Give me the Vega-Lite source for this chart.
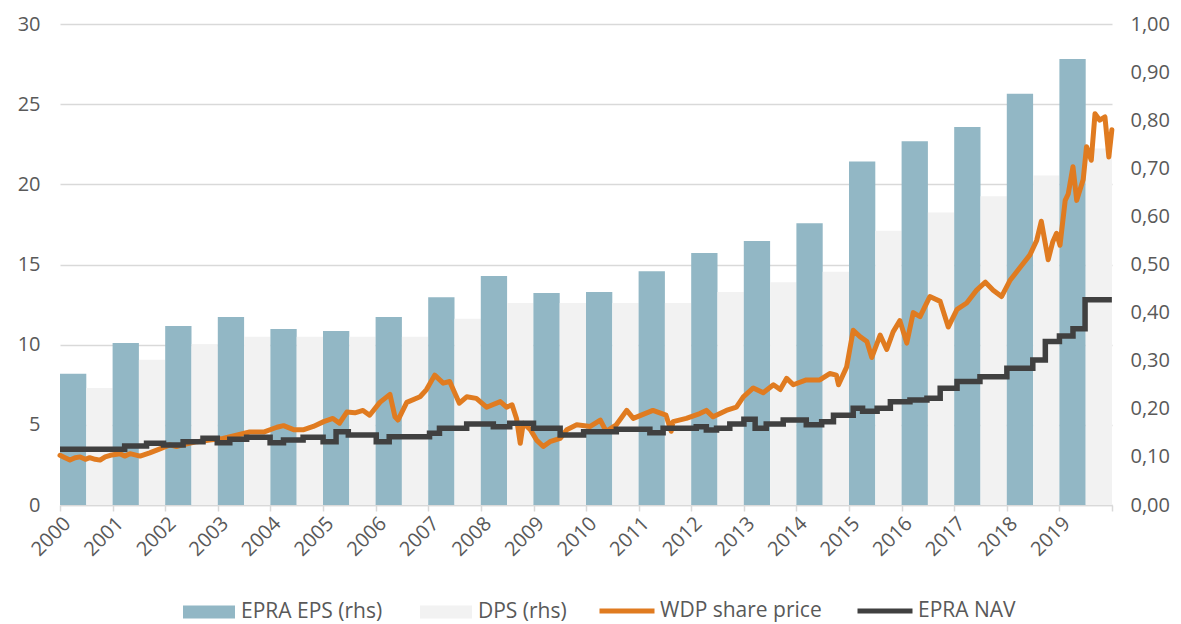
{
  "$schema": "https://vega.github.io/schema/vega-lite/v6.json",
  "width": 1052,
  "height": 481,
  "autosize": {"type": "none"},
  "padding": {"left": 60, "top": 24, "right": 69, "bottom": 119},
  "background": "white",
  "config": {
    "locale": {"number": {"decimal": ",", "thousands": ".", "grouping": [3], "currency": ["", " €"]}},
    "font": "Open Sans",
    "view": {"stroke": null},
    "axis": {"labelFont": "Open Sans", "labelFontSize": 20, "labelColor": "#595959", "title": null, "domain": false, "ticks": false}
  },
  "layer": [
    {
      "data": {"values": [
        {"year": 2000, "series": "EPRA EPS (rhs)", "value": 0.273}, {"year": 2000, "series": "DPS (rhs)", "value": 0.243},
        {"year": 2001, "series": "EPRA EPS (rhs)", "value": 0.337}, {"year": 2001, "series": "DPS (rhs)", "value": 0.302},
        {"year": 2002, "series": "EPRA EPS (rhs)", "value": 0.372}, {"year": 2002, "series": "DPS (rhs)", "value": 0.334},
        {"year": 2003, "series": "EPRA EPS (rhs)", "value": 0.391}, {"year": 2003, "series": "DPS (rhs)", "value": 0.35},
        {"year": 2004, "series": "EPRA EPS (rhs)", "value": 0.366}, {"year": 2004, "series": "DPS (rhs)", "value": 0.35},
        {"year": 2005, "series": "EPRA EPS (rhs)", "value": 0.362}, {"year": 2005, "series": "DPS (rhs)", "value": 0.35},
        {"year": 2006, "series": "EPRA EPS (rhs)", "value": 0.391}, {"year": 2006, "series": "DPS (rhs)", "value": 0.35},
        {"year": 2007, "series": "EPRA EPS (rhs)", "value": 0.432}, {"year": 2007, "series": "DPS (rhs)", "value": 0.387},
        {"year": 2008, "series": "EPRA EPS (rhs)", "value": 0.476}, {"year": 2008, "series": "DPS (rhs)", "value": 0.42},
        {"year": 2009, "series": "EPRA EPS (rhs)", "value": 0.441}, {"year": 2009, "series": "DPS (rhs)", "value": 0.42},
        {"year": 2010, "series": "EPRA EPS (rhs)", "value": 0.443}, {"year": 2010, "series": "DPS (rhs)", "value": 0.42},
        {"year": 2011, "series": "EPRA EPS (rhs)", "value": 0.486}, {"year": 2011, "series": "DPS (rhs)", "value": 0.42},
        {"year": 2012, "series": "EPRA EPS (rhs)", "value": 0.524}, {"year": 2012, "series": "DPS (rhs)", "value": 0.443},
        {"year": 2013, "series": "EPRA EPS (rhs)", "value": 0.549}, {"year": 2013, "series": "DPS (rhs)", "value": 0.463},
        {"year": 2014, "series": "EPRA EPS (rhs)", "value": 0.586}, {"year": 2014, "series": "DPS (rhs)", "value": 0.485},
        {"year": 2015, "series": "EPRA EPS (rhs)", "value": 0.714}, {"year": 2015, "series": "DPS (rhs)", "value": 0.57},
        {"year": 2016, "series": "EPRA EPS (rhs)", "value": 0.756}, {"year": 2016, "series": "DPS (rhs)", "value": 0.608},
        {"year": 2017, "series": "EPRA EPS (rhs)", "value": 0.786}, {"year": 2017, "series": "DPS (rhs)", "value": 0.642},
        {"year": 2018, "series": "EPRA EPS (rhs)", "value": 0.855}, {"year": 2018, "series": "DPS (rhs)", "value": 0.685},
        {"year": 2019, "series": "EPRA EPS (rhs)", "value": 0.927}, {"year": 2019, "series": "DPS (rhs)", "value": 0.741}
      ]},
      "mark": {"type": "bar"},
      "encoding": {
        "x": {"field": "year", "type": "ordinal", "scale": {"paddingInner": 0, "paddingOuter": 0}, "axis": null},
        "xOffset": {"field": "series", "type": "nominal", "sort": ["EPRA EPS (rhs)", "DPS (rhs)"], "scale": {"paddingInner": 0, "paddingOuter": 0}},
        "y": {"field": "value", "type": "quantitative", "scale": {"domain": [0, 1], "nice": false},
              "axis": {"orient": "right", "format": ".2f", "values": [0, 0.1, 0.2, 0.3, 0.4, 0.5, 0.6, 0.7, 0.8, 0.9, 1], "grid": false, "labelPadding": 18, "title": null}},
        "color": {"field": "series", "type": "nominal",
                  "scale": {"domain": ["EPRA EPS (rhs)", "DPS (rhs)"], "range": ["#92B7C5", "#F2F2F2"]},
                  "legend": {"orient": "none", "legendX": 123, "legendY": 562, "direction": "horizontal", "title": null,
                             "symbolType": "M-1,-0.25H1V0.25H-1Z", "symbolSize": 2704, "symbolStrokeWidth": 0, "symbolOpacity": 1,
                             "labelFont": "Open Sans", "labelFontSize": 21, "labelColor": "#595959", "labelOffset": 6,
                             "columnPadding": 37, "labelLimit": 400}}
      }
    },
    {
      "layer": [
        {
          "data": {"values": [
            {"date": "2000-01-01", "series": "WDP share price", "value": 3.1},
            {"date": "2000-02-05", "series": "WDP share price", "value": 2.95},
            {"date": "2000-03-10", "series": "WDP share price", "value": 2.8},
            {"date": "2000-04-15", "series": "WDP share price", "value": 2.95},
            {"date": "2000-05-20", "series": "WDP share price", "value": 3.0},
            {"date": "2000-06-25", "series": "WDP share price", "value": 2.85},
            {"date": "2000-07-25", "series": "WDP share price", "value": 2.95},
            {"date": "2000-09-01", "series": "WDP share price", "value": 2.85},
            {"date": "2000-10-05", "series": "WDP share price", "value": 2.8},
            {"date": "2000-11-10", "series": "WDP share price", "value": 3.0},
            {"date": "2000-12-15", "series": "WDP share price", "value": 3.1},
            {"date": "2001-02-20", "series": "WDP share price", "value": 3.2},
            {"date": "2001-03-25", "series": "WDP share price", "value": 3.05},
            {"date": "2001-05-01", "series": "WDP share price", "value": 3.2},
            {"date": "2001-07-10", "series": "WDP share price", "value": 3.05},
            {"date": "2001-09-15", "series": "WDP share price", "value": 3.25},
            {"date": "2001-11-25", "series": "WDP share price", "value": 3.5},
            {"date": "2002-02-01", "series": "WDP share price", "value": 3.75},
            {"date": "2002-03-20", "series": "WDP share price", "value": 3.65},
            {"date": "2002-05-01", "series": "WDP share price", "value": 3.75},
            {"date": "2002-08-10", "series": "WDP share price", "value": 3.95},
            {"date": "2002-11-05", "series": "WDP share price", "value": 4.05},
            {"date": "2003-02-05", "series": "WDP share price", "value": 4.15},
            {"date": "2003-05-10", "series": "WDP share price", "value": 4.35},
            {"date": "2003-08-10", "series": "WDP share price", "value": 4.55},
            {"date": "2003-11-15", "series": "WDP share price", "value": 4.55},
            {"date": "2004-02-15", "series": "WDP share price", "value": 4.85},
            {"date": "2004-04-01", "series": "WDP share price", "value": 4.95},
            {"date": "2004-06-10", "series": "WDP share price", "value": 4.7},
            {"date": "2004-08-20", "series": "WDP share price", "value": 4.7},
            {"date": "2004-10-25", "series": "WDP share price", "value": 4.9},
            {"date": "2005-01-05", "series": "WDP share price", "value": 5.2},
            {"date": "2005-03-10", "series": "WDP share price", "value": 5.4},
            {"date": "2005-04-25", "series": "WDP share price", "value": 5.1},
            {"date": "2005-06-15", "series": "WDP share price", "value": 5.8},
            {"date": "2005-08-10", "series": "WDP share price", "value": 5.75},
            {"date": "2005-10-05", "series": "WDP share price", "value": 5.9},
            {"date": "2005-11-20", "series": "WDP share price", "value": 5.6},
            {"date": "2006-01-30", "series": "WDP share price", "value": 6.4},
            {"date": "2006-04-10", "series": "WDP share price", "value": 6.9},
            {"date": "2006-05-15", "series": "WDP share price", "value": 5.5},
            {"date": "2006-06-05", "series": "WDP share price", "value": 5.3},
            {"date": "2006-08-05", "series": "WDP share price", "value": 6.4},
            {"date": "2006-11-05", "series": "WDP share price", "value": 6.75},
            {"date": "2006-12-20", "series": "WDP share price", "value": 7.2},
            {"date": "2007-02-15", "series": "WDP share price", "value": 8.1},
            {"date": "2007-04-15", "series": "WDP share price", "value": 7.6},
            {"date": "2007-05-30", "series": "WDP share price", "value": 7.7},
            {"date": "2007-08-05", "series": "WDP share price", "value": 6.35},
            {"date": "2007-09-25", "series": "WDP share price", "value": 6.75},
            {"date": "2007-12-01", "series": "WDP share price", "value": 6.65},
            {"date": "2008-02-10", "series": "WDP share price", "value": 6.1},
            {"date": "2008-05-15", "series": "WDP share price", "value": 6.45},
            {"date": "2008-06-28", "series": "WDP share price", "value": 6.1},
            {"date": "2008-08-05", "series": "WDP share price", "value": 6.25},
            {"date": "2008-09-05", "series": "WDP share price", "value": 5.4},
            {"date": "2008-10-01", "series": "WDP share price", "value": 3.85},
            {"date": "2008-10-22", "series": "WDP share price", "value": 5.1},
            {"date": "2008-12-10", "series": "WDP share price", "value": 4.7},
            {"date": "2009-01-22", "series": "WDP share price", "value": 4.05},
            {"date": "2009-03-10", "series": "WDP share price", "value": 3.65},
            {"date": "2009-04-25", "series": "WDP share price", "value": 3.95},
            {"date": "2009-07-05", "series": "WDP share price", "value": 4.15},
            {"date": "2009-08-20", "series": "WDP share price", "value": 4.7},
            {"date": "2009-10-28", "series": "WDP share price", "value": 5.0},
            {"date": "2010-01-30", "series": "WDP share price", "value": 4.9},
            {"date": "2010-04-10", "series": "WDP share price", "value": 5.3},
            {"date": "2010-05-20", "series": "WDP share price", "value": 4.6},
            {"date": "2010-07-30", "series": "WDP share price", "value": 5.0},
            {"date": "2010-10-10", "series": "WDP share price", "value": 5.9},
            {"date": "2010-11-25", "series": "WDP share price", "value": 5.4},
            {"date": "2011-04-10", "series": "WDP share price", "value": 5.9},
            {"date": "2011-07-10", "series": "WDP share price", "value": 5.6},
            {"date": "2011-08-15", "series": "WDP share price", "value": 4.6},
            {"date": "2011-08-28", "series": "WDP share price", "value": 5.2},
            {"date": "2011-11-28", "series": "WDP share price", "value": 5.4},
            {"date": "2012-03-01", "series": "WDP share price", "value": 5.7},
            {"date": "2012-04-15", "series": "WDP share price", "value": 5.9},
            {"date": "2012-06-01", "series": "WDP share price", "value": 5.5},
            {"date": "2012-09-01", "series": "WDP share price", "value": 5.9},
            {"date": "2012-11-10", "series": "WDP share price", "value": 6.1},
            {"date": "2012-12-28", "series": "WDP share price", "value": 6.75},
            {"date": "2013-03-07", "series": "WDP share price", "value": 7.3},
            {"date": "2013-05-15", "series": "WDP share price", "value": 7.0},
            {"date": "2013-07-25", "series": "WDP share price", "value": 7.5},
            {"date": "2013-09-10", "series": "WDP share price", "value": 7.2},
            {"date": "2013-10-25", "series": "WDP share price", "value": 7.9},
            {"date": "2013-12-10", "series": "WDP share price", "value": 7.5},
            {"date": "2014-03-10", "series": "WDP share price", "value": 7.8},
            {"date": "2014-06-12", "series": "WDP share price", "value": 7.8},
            {"date": "2014-08-20", "series": "WDP share price", "value": 8.2},
            {"date": "2014-10-05", "series": "WDP share price", "value": 8.1},
            {"date": "2014-10-20", "series": "WDP share price", "value": 7.5},
            {"date": "2014-12-15", "series": "WDP share price", "value": 8.6},
            {"date": "2015-01-30", "series": "WDP share price", "value": 10.9},
            {"date": "2015-03-18", "series": "WDP share price", "value": 10.5},
            {"date": "2015-05-05", "series": "WDP share price", "value": 10.2},
            {"date": "2015-06-08", "series": "WDP share price", "value": 9.2},
            {"date": "2015-08-05", "series": "WDP share price", "value": 10.6},
            {"date": "2015-09-20", "series": "WDP share price", "value": 9.7},
            {"date": "2015-11-03", "series": "WDP share price", "value": 10.8},
            {"date": "2015-12-20", "series": "WDP share price", "value": 11.5},
            {"date": "2016-02-06", "series": "WDP share price", "value": 10.1},
            {"date": "2016-03-22", "series": "WDP share price", "value": 12.0},
            {"date": "2016-05-08", "series": "WDP share price", "value": 11.75},
            {"date": "2016-07-15", "series": "WDP share price", "value": 13.0},
            {"date": "2016-09-25", "series": "WDP share price", "value": 12.7},
            {"date": "2016-11-20", "series": "WDP share price", "value": 11.1},
            {"date": "2017-01-20", "series": "WDP share price", "value": 12.2},
            {"date": "2017-03-28", "series": "WDP share price", "value": 12.6},
            {"date": "2017-06-05", "series": "WDP share price", "value": 13.4},
            {"date": "2017-08-05", "series": "WDP share price", "value": 13.9},
            {"date": "2017-09-28", "series": "WDP share price", "value": 13.4},
            {"date": "2017-11-25", "series": "WDP share price", "value": 13.0},
            {"date": "2018-01-22", "series": "WDP share price", "value": 14.0},
            {"date": "2018-04-01", "series": "WDP share price", "value": 14.8},
            {"date": "2018-06-10", "series": "WDP share price", "value": 15.6},
            {"date": "2018-07-27", "series": "WDP share price", "value": 16.5},
            {"date": "2018-08-28", "series": "WDP share price", "value": 17.7},
            {"date": "2018-10-15", "series": "WDP share price", "value": 15.3},
            {"date": "2018-11-15", "series": "WDP share price", "value": 16.4},
            {"date": "2018-12-12", "series": "WDP share price", "value": 16.95},
            {"date": "2019-01-05", "series": "WDP share price", "value": 16.2},
            {"date": "2019-02-10", "series": "WDP share price", "value": 19.0},
            {"date": "2019-03-03", "series": "WDP share price", "value": 19.4},
            {"date": "2019-04-05", "series": "WDP share price", "value": 21.1},
            {"date": "2019-05-01", "series": "WDP share price", "value": 19.0},
            {"date": "2019-06-15", "series": "WDP share price", "value": 20.3},
            {"date": "2019-07-08", "series": "WDP share price", "value": 22.35},
            {"date": "2019-08-10", "series": "WDP share price", "value": 21.5},
            {"date": "2019-09-05", "series": "WDP share price", "value": 24.4},
            {"date": "2019-10-08", "series": "WDP share price", "value": 24.0},
            {"date": "2019-11-13", "series": "WDP share price", "value": 24.2},
            {"date": "2019-12-10", "series": "WDP share price", "value": 21.7},
            {"date": "2019-12-31", "series": "WDP share price", "value": 23.4}
          ], "format": {"parse": {"date": "date:'%Y-%m-%d'"}}},
          "mark": {"type": "line", "strokeWidth": 5, "strokeJoin": "round", "strokeCap": "round"},
          "encoding": {
            "x": {"field": "date", "type": "temporal",
                  "scale": {"domain": [{"year": 2000, "month": 1, "date": 1}, {"year": 2020, "month": 1, "date": 1}]},
                  "axis": {"orient": "bottom", "tickCount": {"interval": "year", "step": 1},
                           "labelExpr": "year(datum.value) >= 2020 ? '' : timeFormat(datum.value, '%Y')",
                           "labelAngle": -45, "labelAlign": "right", "labelBaseline": "top", "labelPadding": 2,
                           "domain": true, "domainColor": "#D9D9D9", "domainWidth": 1.5,
                           "ticks": true, "tickColor": "#D9D9D9", "tickSize": 6, "tickWidth": 1.5,
                           "grid": false, "labelOverlap": false, "labelFlush": false, "title": null}},
            "y": {"field": "value", "type": "quantitative", "scale": {"domain": [0, 30], "nice": false},
                  "axis": {"orient": "left", "values": [0, 5, 10, 15, 20, 25, 30], "grid": true, "gridColor": "#D9D9D9", "gridWidth": 1.5, "labelPadding": 20, "title": null}},
            "stroke": {"field": "series", "type": "nominal",
                       "scale": {"domain": ["WDP share price", "EPRA NAV"], "range": ["#E07B20", "#404040"]},
                       "legend": {"orient": "none", "legendX": 537, "legendY": 557, "direction": "horizontal", "title": null,
                                  "symbolType": "stroke", "symbolSize": 3025, "symbolStrokeWidth": 5,
                                  "labelFont": "Open Sans", "labelFontSize": 21, "labelColor": "#595959", "labelOffset": 3,
                                  "columnPadding": 25, "labelLimit": 400}}
          }
        },
        {
          "data": {"values": [
            {"date": "2000-01-01", "series": "EPRA NAV", "value": 3.47},
            {"date": "2001-03-25", "series": "EPRA NAV", "value": 3.68},
            {"date": "2001-08-24", "series": "EPRA NAV", "value": 3.85},
            {"date": "2001-12-20", "series": "EPRA NAV", "value": 3.74},
            {"date": "2002-05-05", "series": "EPRA NAV", "value": 3.95},
            {"date": "2002-09-20", "series": "EPRA NAV", "value": 4.16},
            {"date": "2002-12-28", "series": "EPRA NAV", "value": 3.89},
            {"date": "2003-03-25", "series": "EPRA NAV", "value": 4.1},
            {"date": "2003-07-20", "series": "EPRA NAV", "value": 4.22},
            {"date": "2003-12-30", "series": "EPRA NAV", "value": 3.89},
            {"date": "2004-04-01", "series": "EPRA NAV", "value": 4.05},
            {"date": "2004-08-15", "series": "EPRA NAV", "value": 4.22},
            {"date": "2005-01-01", "series": "EPRA NAV", "value": 3.95},
            {"date": "2005-04-01", "series": "EPRA NAV", "value": 4.57},
            {"date": "2005-06-25", "series": "EPRA NAV", "value": 4.37},
            {"date": "2006-01-05", "series": "EPRA NAV", "value": 3.95},
            {"date": "2006-04-05", "series": "EPRA NAV", "value": 4.26},
            {"date": "2007-01-10", "series": "EPRA NAV", "value": 4.47},
            {"date": "2007-03-20", "series": "EPRA NAV", "value": 4.78},
            {"date": "2007-09-25", "series": "EPRA NAV", "value": 5.05},
            {"date": "2008-03-28", "series": "EPRA NAV", "value": 4.88},
            {"date": "2008-07-20", "series": "EPRA NAV", "value": 5.1},
            {"date": "2009-01-01", "series": "EPRA NAV", "value": 4.78},
            {"date": "2009-07-05", "series": "EPRA NAV", "value": 4.37},
            {"date": "2009-12-15", "series": "EPRA NAV", "value": 4.57},
            {"date": "2010-07-30", "series": "EPRA NAV", "value": 4.72},
            {"date": "2011-03-20", "series": "EPRA NAV", "value": 4.51},
            {"date": "2011-06-20", "series": "EPRA NAV", "value": 4.78},
            {"date": "2012-02-05", "series": "EPRA NAV", "value": 4.88},
            {"date": "2012-04-15", "series": "EPRA NAV", "value": 4.68},
            {"date": "2012-06-25", "series": "EPRA NAV", "value": 4.78},
            {"date": "2012-09-25", "series": "EPRA NAV", "value": 5.05},
            {"date": "2013-01-01", "series": "EPRA NAV", "value": 5.35},
            {"date": "2013-03-20", "series": "EPRA NAV", "value": 4.78},
            {"date": "2013-06-05", "series": "EPRA NAV", "value": 5.05},
            {"date": "2013-10-01", "series": "EPRA NAV", "value": 5.3},
            {"date": "2014-03-10", "series": "EPRA NAV", "value": 5.0},
            {"date": "2014-06-25", "series": "EPRA NAV", "value": 5.2},
            {"date": "2014-09-15", "series": "EPRA NAV", "value": 5.6},
            {"date": "2015-01-30", "series": "EPRA NAV", "value": 6.03},
            {"date": "2015-04-05", "series": "EPRA NAV", "value": 5.85},
            {"date": "2015-07-15", "series": "EPRA NAV", "value": 6.03},
            {"date": "2015-10-15", "series": "EPRA NAV", "value": 6.44},
            {"date": "2016-02-28", "series": "EPRA NAV", "value": 6.55},
            {"date": "2016-06-25", "series": "EPRA NAV", "value": 6.66},
            {"date": "2016-09-25", "series": "EPRA NAV", "value": 7.28},
            {"date": "2017-01-20", "series": "EPRA NAV", "value": 7.7},
            {"date": "2017-06-28", "series": "EPRA NAV", "value": 8.0},
            {"date": "2018-01-01", "series": "EPRA NAV", "value": 8.53},
            {"date": "2018-06-30", "series": "EPRA NAV", "value": 9.05},
            {"date": "2018-09-25", "series": "EPRA NAV", "value": 10.2},
            {"date": "2019-01-01", "series": "EPRA NAV", "value": 10.54},
            {"date": "2019-04-05", "series": "EPRA NAV", "value": 11.0},
            {"date": "2019-06-28", "series": "EPRA NAV", "value": 12.8},
            {"date": "2019-12-31", "series": "EPRA NAV", "value": 12.8}
          ], "format": {"parse": {"date": "date:'%Y-%m-%d'"}}},
          "mark": {"type": "line", "interpolate": "step-after", "strokeWidth": 5.5},
          "encoding": {
            "x": {"field": "date", "type": "temporal"},
            "y": {"field": "value", "type": "quantitative"},
            "stroke": {"field": "series", "type": "nominal"}
          }
        }
      ]
    }
  ],
  "resolve": {"scale": {"x": "independent", "y": "independent"}}
}
